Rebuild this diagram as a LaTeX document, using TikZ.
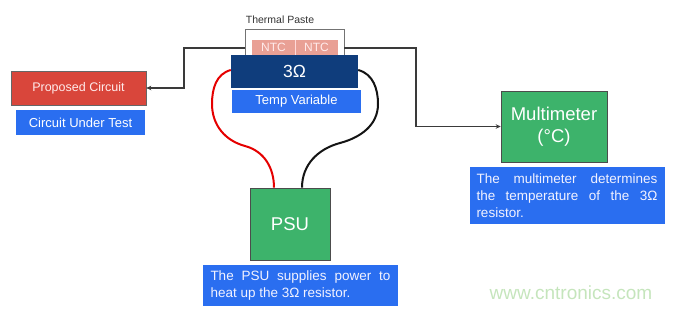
\documentclass[tikz,border=0pt]{standalone}
\usepackage{fontspec}
\setmainfont{Liberation Sans}
\usetikzlibrary{arrows.meta}
\definecolor{boxred}{HTML}{D9463B}
\definecolor{boxblue}{HTML}{2A6EF0}
\definecolor{boxnavy}{HTML}{0F3D7C}
\definecolor{boxgreen}{HTML}{3DB36B}
\definecolor{ntcpink}{HTML}{E9A095}
\definecolor{wiregray}{HTML}{3A3A3A}
\definecolor{wmgreen}{HTML}{C5E5BC}
\tikzset{
  redbox/.style={draw=black!60, line width=0.6pt, fill=boxred, text=white!92!red, font=\fontsize{12.5}{14}\selectfont},
  bluebox/.style={fill=boxblue, text=white, font=\fontsize{13}{15}\selectfont},
  navybox/.style={fill=boxnavy, text=white, font=\fontsize{17.5}{20}\selectfont},
  greenbox/.style={draw=black!70, line width=0.6pt, fill=boxgreen, text=white, font=\fontsize{18.5}{22}\selectfont, align=center},
  ntcbox/.style={fill=ntcpink, text=white!92!red, font=\fontsize{12}{14}\selectfont},
  caption/.style={fill=boxblue, text=white!95!blue, font=\fontsize{13.5}{17}\selectfont, align=justify, inner sep=0pt},
  sig/.style={draw=wiregray, line width=1.1pt, -{Stealth[length=5pt,width=4.5pt]}},
  redwire/.style={draw=red!90!black, line width=2pt},
  blackwire/.style={draw=black!92, line width=2pt},
}
\begin{document}
\begin{tikzpicture}[x=1pt,y=1pt]
\useasboundingbox (0,0) rectangle (673,309);
% thermal paste
\node[font=\fontsize{10.5}{12}\selectfont, text=black!80] (tplabel) at (280,289) {Thermal Paste};
\node[draw=black!55, line width=0.6pt, minimum width=99pt, minimum height=26pt, inner sep=0pt] (paste) at (294.5,267) {};
\node[ntcbox, minimum width=43pt, minimum height=15pt, inner sep=0pt] (ntca) at (273.5,261.5) {NTC};
\node[ntcbox, minimum width=43pt, minimum height=15pt, inner sep=0pt] (ntcb) at (316.5,261.5) {NTC};
\draw[draw=white!85!red, line width=0.5pt] (ntca.north east) -- (ntca.south east);
% resistor
\node[navybox, minimum width=127pt, minimum height=33pt, inner sep=0pt] (res) at (294.5,237.5) {3Ω};
\node[bluebox, minimum width=129pt, minimum height=23pt, inner sep=0pt] (temp) at (296.5,207.5) {Temp Variable};
% left
\node[redbox, minimum width=135pt, minimum height=34pt, inner sep=0pt] (prop) at (78.5,221) {Proposed Circuit};
\node[bluebox, minimum width=129pt, minimum height=25pt, inner sep=0pt] (cut) at (80.5,186.5) {Circuit Under Test};
% multimeter
\node[greenbox, minimum width=106pt, minimum height=71pt, inner sep=0pt] (mm) at (554,182.5) {Multimeter\\(°C)};
\node[caption, minimum width=195pt, minimum height=57pt, text width=181pt] (mmcap) at (567,113.5)
  {The multimeter determines\linebreak the temperature of the 3Ω\linebreak resistor.};
% PSU
\node[caption, minimum width=195pt, minimum height=41pt, text width=180pt] (psucap) at (300.5,23.5)
  {The PSU supplies power to\linebreak heat up the 3Ω resistor.};
\node[greenbox, minimum width=80pt, minimum height=72pt, inner sep=0pt] (psu) at (290,85) {PSU};
% signal lines
\coordinate (lc) at (184,261);
\coordinate (rc) at (416,261);
\draw[sig] (paste.west |- lc) -- (lc) |- (prop.east);
\draw[sig] (paste.east |- rc) -- (rc) |- (mm.west);
% wires
\draw[redwire] ([yshift=1.5pt]res.west) to[out=195,in=90] (212,205) to[out=-90,in=165] (245,163) to[out=-15,in=90] ([xshift=-16pt]psu.north);
\draw[blackwire] ([yshift=1.5pt]res.east) to[out=-15,in=90] (378,205) to[out=-90,in=15] (340,166) to[out=195,in=90] ([xshift=12pt]psu.north);
% watermark
\node[text=wmgreen, font=\fontsize{19}{21}\selectfont] (wm) at (571,16) {www.cntronics.com};
\end{tikzpicture}
\end{document}
